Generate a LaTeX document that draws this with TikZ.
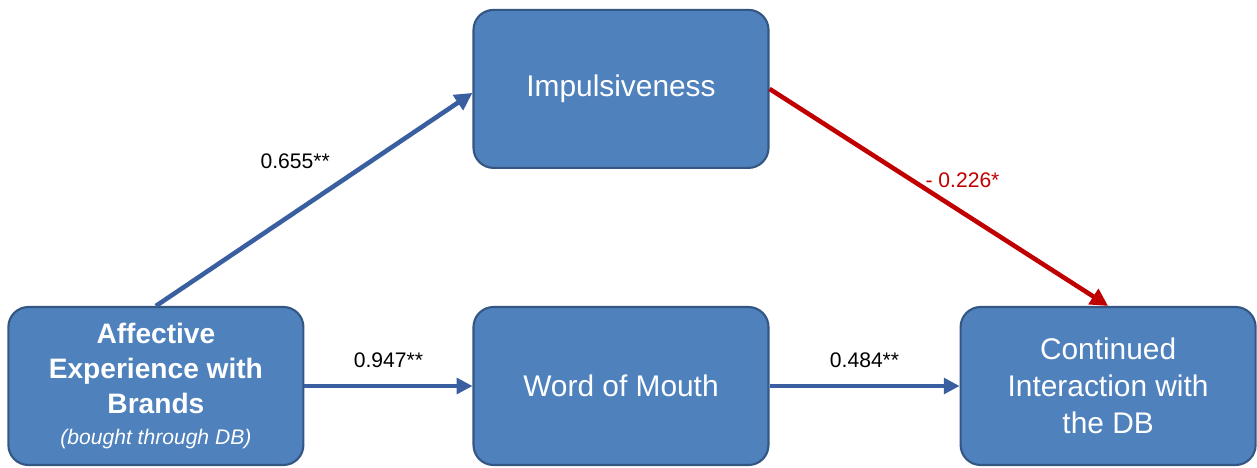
\documentclass[tikz,border=0pt]{standalone}
\usepackage{fontspec}
\setmainfont{Liberation Sans}
\usetikzlibrary{arrows.meta, positioning}

\definecolor{boxblue}{RGB}{79,129,189}
\definecolor{boxline}{RGB}{52,86,130}
\definecolor{arrowblue}{RGB}{58,95,160}
\definecolor{arrowred}{RGB}{192,0,0}

\begin{document}
\begin{tikzpicture}[
  box/.style={rectangle, rounded corners=0.4cm, draw=boxline, line width=1.2pt, fill=boxblue,
    minimum width=5.9cm, minimum height=3.16cm, align=center, text=white,
    font=\fontsize{17}{21}\selectfont},
  arrow/.style={-{Triangle[length=10pt, width=10pt]}, line width=2.6pt, draw=arrowblue},
  flat/.style={-{Triangle[length=9pt, width=9pt]}, line width=2pt, draw=arrowblue},
  coef/.style={font=\fontsize{12}{14}\selectfont, text=black}
]
\useasboundingbox (0,0) rectangle (25.14,-9.34);

% Nodes
\node (wom) [box] at (12.42,-7.72) {Word of Mouth};
\node (affect) [box, left=3.36cm of wom, font=\fontsize{16}{20}\selectfont\bfseries]
  {Affective\\Experience with\\Brands\\[-2pt]{\fontsize{12}{14}\selectfont\mdseries\itshape (bought through DB)}};
\node (impuls) [box, above=2.74cm of wom] {Impulsiveness};
\node (cont) [box, right=3.8cm of wom] {Continued\\Interaction with\\the DB};

% Arrows
\draw [arrow] (affect.north) -- node[coef, pos=0.44, above=0.7cm] {0.655**} ([yshift=-0.08cm]impuls.west);
\draw [flat] (affect) -- node[coef, above=0.22cm] {0.947**} (wom);
\draw [flat] (wom) -- node[coef, above=0.22cm] {0.484**} (cont);
\draw [arrow, draw=arrowred] (impuls.east) -- node[coef, pos=0.57, above=0.33cm, text=arrowred] {- 0.226*} (cont.north);

\end{tikzpicture}
\end{document}
